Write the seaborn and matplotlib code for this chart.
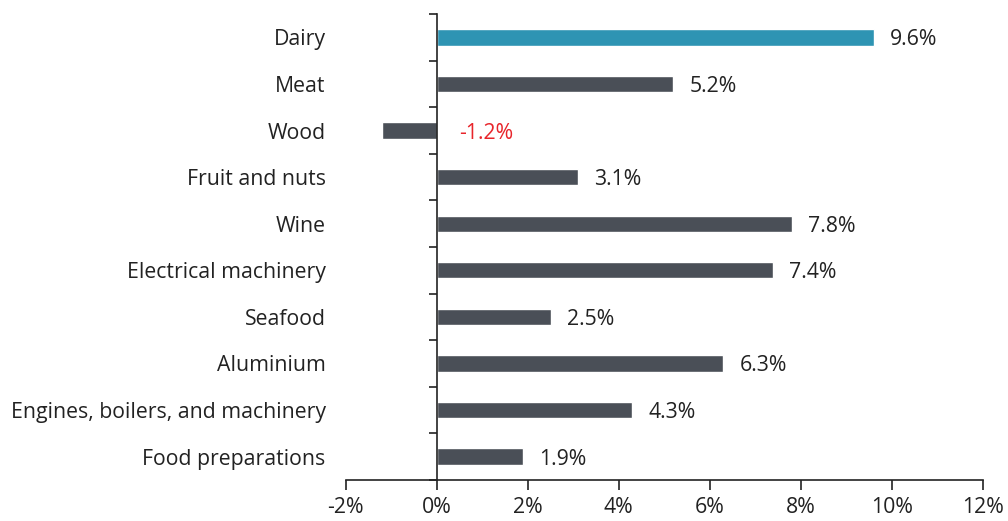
import pandas as pd
import numpy as np
import matplotlib.pyplot as plt
import seaborn as sns
from matplotlib.ticker import FixedLocator, FuncFormatter

# Data
categories = ['Dairy', 'Meat', 'Wood', 'Fruit and nuts', 'Wine', 'Electrical machinery',
              'Seafood', 'Aluminium', 'Engines, boilers, and machinery', 'Food preparations']
growth = [9.6, 5.2, -1.2, 3.1, 7.8, 7.4, 2.5, 6.3, 4.3, 1.9]
highlight = ['Dairy']

BLUE = '#2E94B3'
GREY = '#4A4F57'
RED = '#E8252B'
FS = 15.3

sns.set_style('white')
plt.rcParams['font.family'] = ['Open Sans', 'DejaVu Sans']

df = pd.DataFrame({'category': categories, 'growth': growth})
df['group'] = np.where(df['category'].isin(highlight), 'hi', 'lo')

fig = plt.figure(figsize=(10.08, 5.21), dpi=100)
ax = fig.add_axes([0.343, 0.079, 0.632, 0.894])

sns.barplot(data=df, x='growth', y='category', hue='group', orient='h',
            palette={'hi': BLUE, 'lo': GREY}, width=0.35, dodge=False,
            legend=False, ax=ax, saturation=1)

ax.set_xlim(-2, 12)
ax.set_ylim(len(categories) - 0.5, -0.5)
ax.set_xticks(np.arange(-2, 13, 2))
ax.xaxis.set_major_formatter(FuncFormatter(lambda v, p: f'{v:.0f}%'))
ax.set_xlabel('')
ax.set_ylabel('')

# y ticks at category boundaries, labels at centres
ax.yaxis.set_major_locator(FixedLocator(np.arange(-0.5, len(categories), 1)))
ax.yaxis.set_major_formatter(FuncFormatter(lambda v, p: ''))
ax.yaxis.set_minor_locator(FixedLocator(np.arange(len(categories))))
ax.set_yticklabels(categories, minor=True)
ax.tick_params(axis='y', which='minor', left=True, length=0, pad=80, labelsize=FS, colors='#222222')
ax.tick_params(axis='y', which='major', left=True, length=6, width=1.2, direction='out', colors='#222222')
ax.tick_params(axis='x', bottom=True, length=7, width=1.2, direction='out', labelsize=FS,
               colors='#222222', pad=5)

for lab in ax.get_yticklabels(minor=True):
    lab.set_horizontalalignment('right')

# spines
for s in ['top', 'right']:
    ax.spines[s].set_visible(False)
ax.spines['left'].set_position(('data', 0))
for s in ['left', 'bottom']:
    ax.spines[s].set_color('#222222')
    ax.spines[s].set_linewidth(1.2)

# value labels
for i, v in enumerate(growth):
    if v >= 0:
        ax.annotate(f'{v:.1f}%', xy=(v, i), xytext=(16, 0), textcoords='offset pixels',
                    va='center_baseline', ha='left', fontsize=FS, color='#222222')
    else:
        ax.annotate(f'{v:.1f}%', xy=(0, i), xytext=(22, 0), textcoords='offset pixels',
                    va='center_baseline', ha='left', fontsize=FS, color=RED)

fig.savefig('out.png', dpi=100)
